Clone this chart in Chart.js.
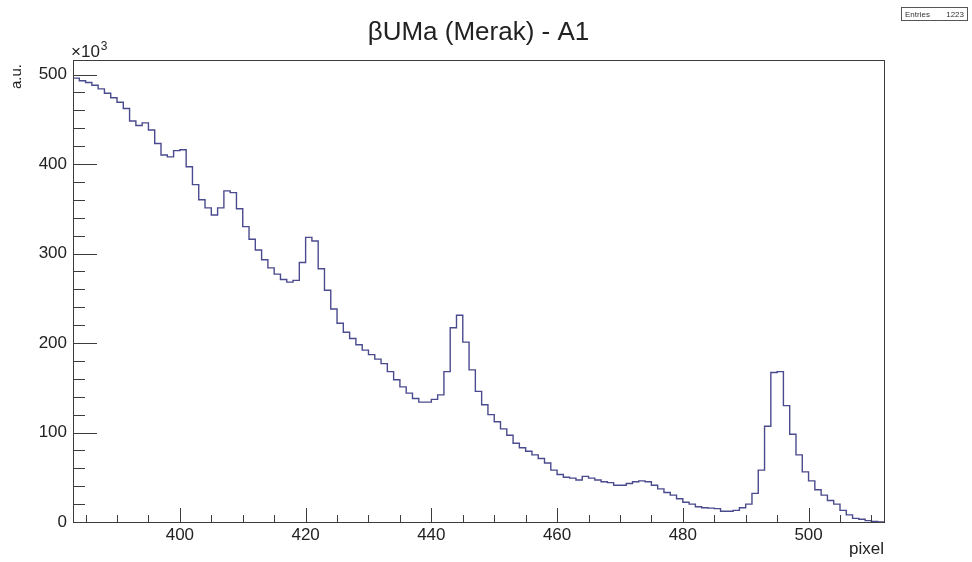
<!DOCTYPE html>
<html>
<head>
<meta charset="utf-8">
<script src="https://cdn.jsdelivr.net/npm/chart.js@4.4.1/dist/chart.umd.min.js"></script>
<style>
  html, body { margin: 0; padding: 0; background: #fff; }
</style>
</head>
<body>
<canvas id="myChart" width="972" height="562"></canvas>
<script>
// DATA - one bin per detector pixel, values in a.u. x10^3
const firstPixel = 383;
const lastEdge = 512;
const counts = [
  496, 493, 491, 488, 484, 479, 474, 469, 462, 448,   // 383-392
  443, 446, 438, 423, 410, 408, 415, 416, 397, 377,   // 393-402
  360, 351, 343, 351, 370, 368, 350, 330, 316, 304,   // 403-412
  293, 284, 277, 271, 268, 270, 290, 318, 314, 283,   // 413-422
  259, 238, 222, 212, 205, 198, 192, 187, 182, 177,   // 423-432
  168, 159, 151, 144, 138, 134, 134, 137, 142, 168,   // 433-442
  217, 231, 201, 170, 146, 131, 120, 112, 104, 97,    // 443-452
  88, 83, 79, 75, 71, 66, 58, 53, 50, 49,             // 453-462
  47, 51, 49, 47, 45, 44, 41, 41, 43, 45,             // 463-472
  46, 45, 41, 37, 33, 30, 26, 22, 20, 17,             // 473-482
  16, 15.5, 15, 12, 12, 13, 16, 20, 32, 58,           // 483-492
  107, 167, 168, 130, 98, 75, 56, 46, 36, 30,         // 493-502
  24, 20, 13, 8, 4, 3, 1.5, 0.5, 0                    // 503-511
];
const xTickLabels = [400, 420, 440, 460, 480, 500];
const yTickLabels = [0, 100, 200, 300, 400, 500];
const entries = 1223;

const frameColor = "#3c3c3c";
const textColor = "#222";
const fontFamily = "'Liberation Sans', Arial, sans-serif";

// histogram outline: a point on every left bin edge, plus the closing edge
const points = counts.map((v, i) => ({ x: firstPixel + i, y: v }));
points.push({ x: lastEdge, y: counts[counts.length - 1] });

// ROOT style frame, inward ticks, exponent, stats box
const rootFrame = {
  id: "rootFrame",
  afterDraw(chart) {
    const { ctx, chartArea: a, scales } = chart;
    const xs = scales.x, ys = scales.y;
    ctx.save();
    ctx.strokeStyle = frameColor;
    ctx.lineWidth = 1;
    ctx.strokeRect(Math.round(a.left) + 0.5, Math.round(a.top) + 0.5,
      Math.round(a.right - a.left), Math.round(a.bottom - a.top));

    ctx.beginPath();
    for (let v = 385; v < lastEdge; v += 5) {
      const px = Math.round(xs.getPixelForValue(v)) + 0.5;
      const len = v % 20 === 0 ? 14 : 7;
      ctx.moveTo(px, a.bottom);
      ctx.lineTo(px, a.bottom - len);
    }
    for (let v = 0; v <= 500; v += 20) {
      const py = Math.round(ys.getPixelForValue(v)) + 0.5;
      const len = v % 100 === 0 ? 24 : 12;
      ctx.moveTo(a.left, py);
      ctx.lineTo(a.left + len, py);
    }
    ctx.stroke();

    // x10^3 above the y axis
    ctx.fillStyle = textColor;
    ctx.textBaseline = "alphabetic";
    ctx.textAlign = "left";
    ctx.font = "17px " + fontFamily;
    ctx.fillText("\u00d710", a.left - 2, 57);
    const w = ctx.measureText("\u00d710").width;
    ctx.font = "12px " + fontFamily;
    ctx.fillText("3", a.left - 1 + w, 50);

    // y axis title, ROOT puts it at the top end
    ctx.save();
    ctx.translate(21, 64);
    ctx.rotate(-Math.PI / 2);
    ctx.textAlign = "right";
    ctx.font = "15px " + fontFamily;
    ctx.fillText("a.u.", 0, 0);
    ctx.restore();

    // stats box
    ctx.strokeStyle = "#555";
    ctx.strokeRect(901.5, 7.5, 66, 13);
    ctx.font = "8px " + fontFamily;
    ctx.fillStyle = "#333";
    ctx.textAlign = "left";
    ctx.fillText("Entries", 905, 17);
    ctx.textAlign = "right";
    ctx.fillText(String(entries), 964, 17);
    ctx.restore();
  },
};

const data = {
  datasets: [
    {
      label: "A1",
      data: points,
      stepped: "before",
      borderColor: "#4a4a8e",
      borderWidth: 1.4,
      pointRadius: 0,
      fill: false,
    },
  ],
};

const config = {
  type: "line",
  data,
  options: {
    responsive: false,
    animation: false,
    devicePixelRatio: 1,
    layout: { padding: { top: 0, right: 88, bottom: 0, left: 0 } },
    plugins: {
      legend: { display: false },
      tooltip: { enabled: false },
      title: {
        display: true,
        fullSize: false,
        text: "\u03b2UMa (Merak) - A1",
        color: textColor,
        font: { family: fontFamily, size: 26, weight: "normal" },
        padding: { top: 17, bottom: 12 },
      },
    },
    scales: {
      x: {
        type: "linear",
        min: firstPixel,
        max: lastEdge,
        afterBuildTicks: (s) => { s.ticks = xTickLabels.map((v) => ({ value: v })); },
        afterFit: (s) => { s.height = 40; },
        grid: { display: false, drawTicks: false },
        border: { display: false },
        ticks: {
          padding: 3,
          maxRotation: 0,
          autoSkip: false,
          color: textColor,
          font: { family: fontFamily, size: 17 },
        },
        title: {
          display: true,
          text: "pixel",
          align: "end",
          color: textColor,
          font: { family: fontFamily, size: 17 },
          padding: { top: 0, bottom: 2 },
        },
      },
      y: {
        min: 0,
        max: 516,
        afterBuildTicks: (s) => { s.ticks = yTickLabels.map((v) => ({ value: v })); },
        afterFit: (s) => { s.width = 73; },
        grid: { display: false, drawTicks: false },
        border: { display: false },
        ticks: {
          padding: 6,
          color: textColor,
          font: { family: fontFamily, size: 17 },
        },
      },
    },
  },
  plugins: [rootFrame],
};

const myChart = new Chart(document.getElementById("myChart"), config);
</script>
</body>
</html>
